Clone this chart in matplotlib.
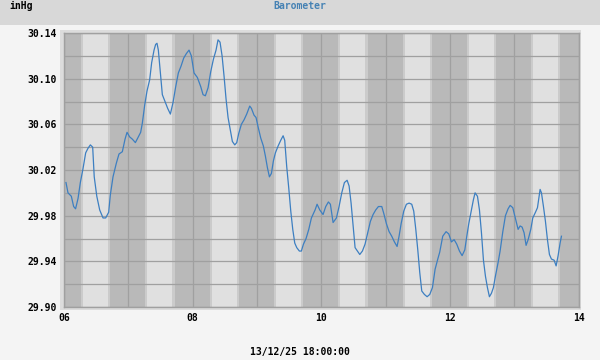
import matplotlib
matplotlib.use('Agg')
import matplotlib.pyplot as plt
from matplotlib.ticker import MultipleLocator

# time in days of December 2025, pressure in inHg
days = [6.031, 6.062, 6.114, 6.15, 6.18, 6.218, 6.254, 6.295, 6.337, 6.373, 6.41, 6.446,
        6.47, 6.51, 6.555, 6.607, 6.648, 6.695, 6.72, 6.762, 6.814, 6.855, 6.907, 6.949,
        6.98, 7.021, 7.063, 7.11, 7.146, 7.192, 7.218, 7.255, 7.29, 7.332, 7.363, 7.4,
        7.425, 7.446, 7.467, 7.498, 7.529, 7.57, 7.612, 7.654, 7.695, 7.737, 7.778, 7.82,
        7.861, 7.903, 7.944, 7.98, 8.022, 8.074, 8.126, 8.162, 8.198, 8.24, 8.281, 8.323,
        8.364, 8.395, 8.426, 8.458, 8.489, 8.52, 8.551, 8.587, 8.618, 8.655, 8.686, 8.717,
        8.758, 8.8, 8.841, 8.888, 8.914, 8.955, 8.986, 9.017, 9.059, 9.1, 9.132, 9.163,
        9.194, 9.225, 9.256, 9.287, 9.329, 9.37, 9.407, 9.432, 9.463, 9.495, 9.526, 9.557,
        9.588, 9.619, 9.66, 9.691, 9.723, 9.764, 9.806, 9.847, 9.888, 9.904, 9.935, 9.977,
        10.028, 10.07, 10.111, 10.142, 10.184, 10.236, 10.277, 10.319, 10.36, 10.402, 10.433,
        10.464, 10.495, 10.526, 10.562, 10.599, 10.64, 10.681, 10.723, 10.764, 10.806, 10.847,
        10.889, 10.941, 10.972, 11.013, 11.055, 11.096, 11.138, 11.179, 11.21, 11.242, 11.283,
        11.324, 11.366, 11.407, 11.438, 11.47, 11.501, 11.532, 11.563, 11.604, 11.646, 11.687,
        11.729, 11.77, 11.812, 11.842, 11.889, 11.941, 11.983, 12.024, 12.066, 12.107, 12.149,
        12.19, 12.232, 12.263, 12.294, 12.335, 12.366, 12.392, 12.429, 12.46, 12.491, 12.522,
        12.553, 12.584, 12.615, 12.646, 12.677, 12.708, 12.75, 12.781, 12.823, 12.864, 12.905,
        12.937, 12.978, 13.009, 13.04, 13.061, 13.092, 13.123, 13.154, 13.185, 13.217, 13.258,
        13.289, 13.331, 13.362, 13.382, 13.403, 13.424, 13.455, 13.486, 13.517, 13.548, 13.579,
        13.621, 13.652, 13.683, 13.714, 13.735]
pressure = [30.009, 30.000, 29.997, 29.988, 29.986, 29.995, 30.009, 30.021, 30.035, 30.039, 30.042, 30.040,
            30.014, 29.997, 29.985, 29.978, 29.978, 29.983, 29.998, 30.014, 30.026, 30.034, 30.036, 30.047,
            30.053, 30.049, 30.047, 30.044, 30.048, 30.053, 30.061, 30.077, 30.089, 30.099, 30.114, 30.125,
            30.130, 30.131, 30.125, 30.105, 30.086, 30.080, 30.074, 30.069, 30.079, 30.093, 30.105, 30.111,
            30.118, 30.122, 30.125, 30.120, 30.105, 30.101, 30.093, 30.086, 30.085, 30.092, 30.106, 30.117,
            30.125, 30.134, 30.132, 30.120, 30.102, 30.082, 30.066, 30.055, 30.045, 30.042, 30.044, 30.052,
            30.060, 30.064, 30.069, 30.076, 30.074, 30.068, 30.066, 30.058, 30.048, 30.041, 30.032, 30.022,
            30.014, 30.017, 30.028, 30.035, 30.041, 30.046, 30.050, 30.046, 30.023, 30.004, 29.984, 29.968,
            29.956, 29.952, 29.949, 29.949, 29.955, 29.960, 29.968, 29.978, 29.983, 29.985, 29.990, 29.985,
            29.981, 29.988, 29.992, 29.990, 29.974, 29.978, 29.988, 30.000, 30.009, 30.011, 30.006,
            29.991, 29.971, 29.952, 29.949, 29.946, 29.949, 29.955, 29.965, 29.975, 29.981, 29.985,
            29.988, 29.988, 29.982, 29.973, 29.966, 29.962, 29.957, 29.953, 29.962, 29.973, 29.984,
            29.990, 29.991, 29.990, 29.984, 29.968, 29.950, 29.930, 29.914, 29.911, 29.909, 29.911,
            29.917, 29.933, 29.942, 29.948, 29.962, 29.966, 29.964, 29.957, 29.959, 29.955, 29.949,
            29.945, 29.950, 29.962, 29.973, 29.985, 29.994, 30.000, 29.997, 29.985, 29.965, 29.941,
            29.927, 29.917, 29.909, 29.912, 29.917, 29.927, 29.939, 29.949, 29.966, 29.980, 29.986,
            29.989, 29.987, 29.980, 29.973, 29.968, 29.971, 29.970, 29.965, 29.954, 29.959, 29.968,
            29.978, 29.983, 29.987, 29.995, 30.003, 30.000, 29.988, 29.975, 29.959, 29.946, 29.942,
            29.941, 29.936, 29.945, 29.956, 29.962]

x_ticks = [6, 8, 10, 12, 14]
x_labels = ['06', '08', '10', '12', '14']
y_ticks = [29.90, 29.94, 29.98, 30.02, 30.06, 30.10, 30.14]
y_labels = ['29.90', '29.94', '29.98', '30.02', '30.06', '30.10', '30.14']

font = 'DejaVu Sans Mono'
fig = plt.figure(figsize=(6, 3.6), dpi=100, facecolor='#f4f4f4')

# header band and light frame round the plot
fig.patches.append(plt.Rectangle((0, 335/360), 1, 25/360, transform=fig.transFigure,
                                 facecolor='#d8d8d8', linewidth=0, zorder=-2))
fig.patches.append(plt.Rectangle((60/600, 50/360), 521/600, 280/360, transform=fig.transFigure,
                                 facecolor='#dcdcdc', linewidth=0, zorder=-2))

ax = fig.add_axes([64/600, 53/360, 514.5/600, 274/360])
ax.set_zorder(2)
ax.set_facecolor('#b9b9b9')

# day / night shading
for d in range(6, 14):
    ax.axvspan(d + 0.265, d + 0.295, color='#cbcbcb', lw=0, zorder=0)
    ax.axvspan(d + 0.295, d + 0.685, color='#e0e0e0', lw=0, zorder=0)
    ax.axvspan(d + 0.685, d + 0.72, color='#cbcbcb', lw=0, zorder=0)

ax.plot(days, pressure, color='#3d7fc1', lw=0.9, zorder=3)

ax.set_xlim(6, 14)
ax.set_ylim(29.90, 30.14)
ax.set_xticks(x_ticks)
ax.set_xticklabels(x_labels)
ax.set_yticks(y_ticks)
ax.set_yticklabels(y_labels)
ax.xaxis.set_minor_locator(MultipleLocator(1))
ax.yaxis.set_minor_locator(MultipleLocator(0.02))
ax.grid(True, which='both', color='#a0a0a0', lw=0.9)
for line in ax.get_xgridlines() + ax.get_ygridlines():
    line.set_zorder(1)
ax.tick_params(which='both', length=0)
ax.tick_params(axis='y', pad=5)
ax.tick_params(axis='x', pad=4)
for lab in ax.get_xticklabels() + ax.get_yticklabels():
    lab.set_fontfamily(font)
    lab.set_fontweight('bold')
    lab.set_fontsize(7)
for s in ax.spines.values():
    s.set_color('#a0a0a0')
    s.set_linewidth(1)

fig.text(9/600, 1 - 6/360, 'inHg', ha='left', va='center', fontsize=7,
         fontweight='bold', family=font, color='black')
fig.text(300/600, 1 - 6/360, 'Barometer', ha='center', va='center', fontsize=7,
         fontweight='bold', family=font, color='#4682b4')
fig.text(300/600, 1 - 352/360, '13/12/25 18:00:00', ha='center', va='center', fontsize=7,
         fontweight='bold', family=font, color='black')

plt.savefig('out.png', dpi=100, facecolor=fig.get_facecolor())
